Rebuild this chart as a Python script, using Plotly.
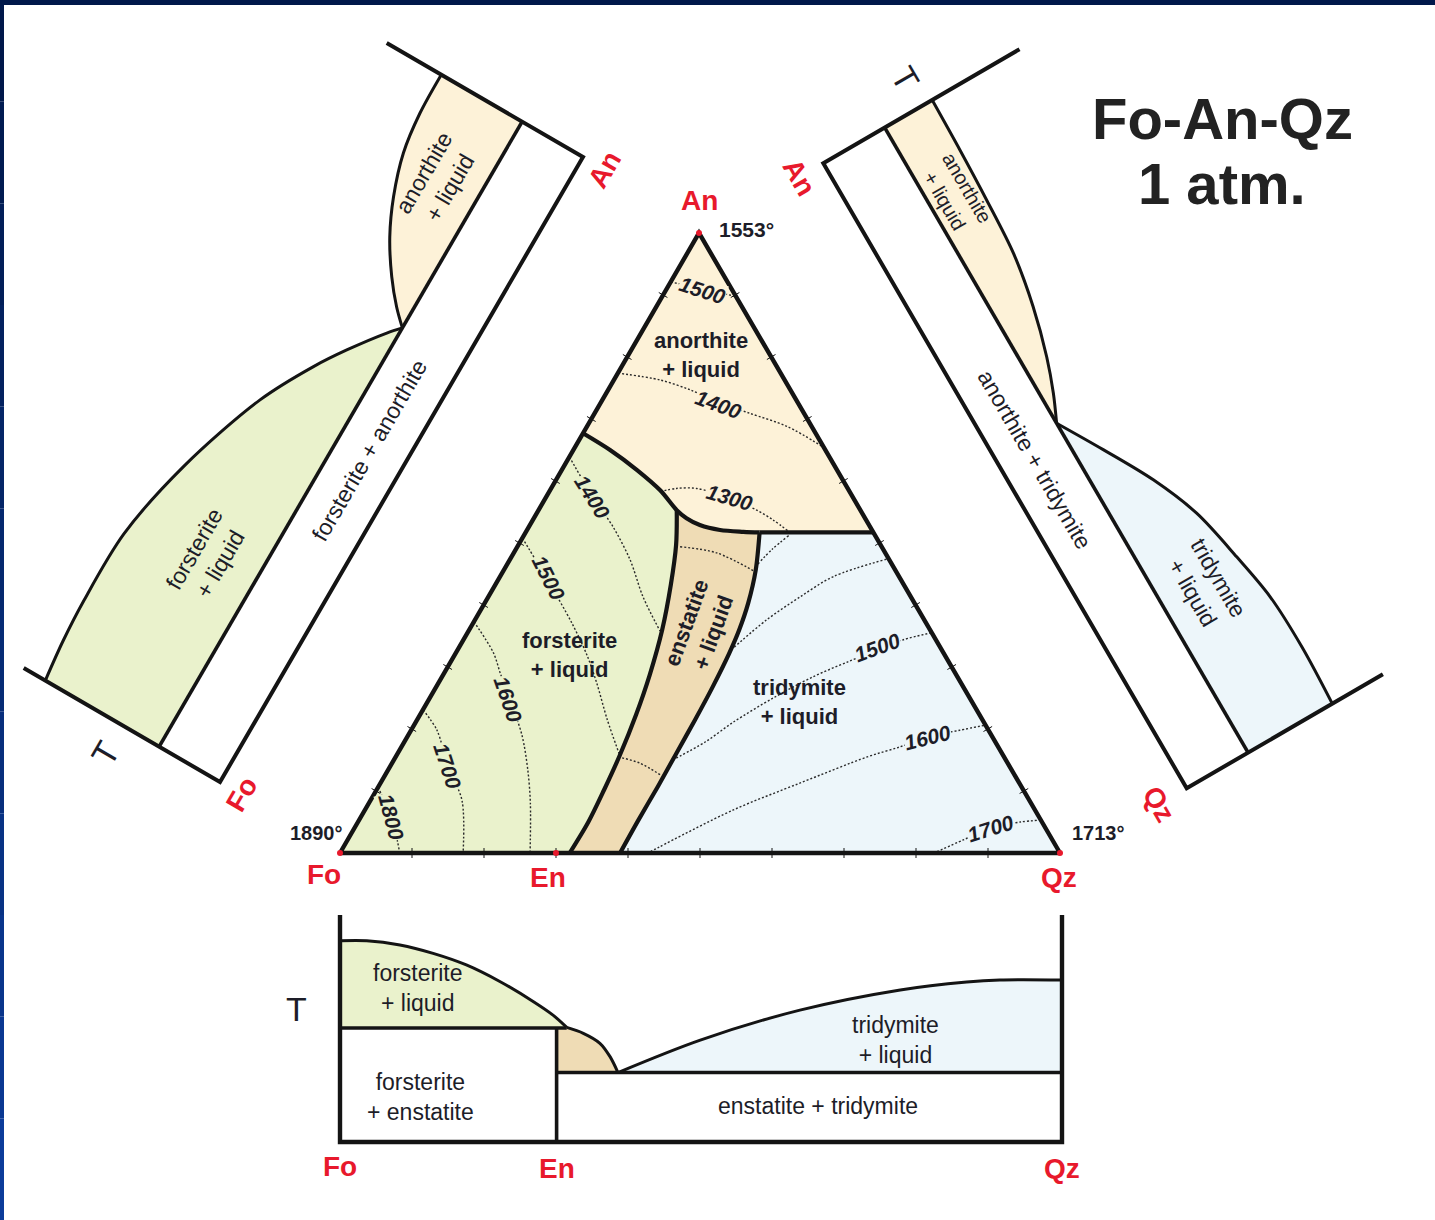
import math
import plotly.graph_objects as go

FONT = "Liberation Sans, Arial, Helvetica, sans-serif"
INK = "#1d1d28"
LINE = "#141414"
DOTS = "#2a2a2a"
RED = "#e8192c"
C_FO = "#eaf2cc"   # forsterite + liquid
C_EN = "#efdcb5"   # enstatite + liquid
C_AN = "#fdf2d8"   # anorthite + liquid
C_TR = "#edf6fa"   # tridymite + liquid

# ---------------- ternary Fo-An-Qz, points given as (An, Qz) fractions ----------------
FO_PT, AN_PT, QZ_PT = (340, 853), (699, 233), (1060, 853)
APEX_TEMPS = {"Fo": "1890°", "An": "1553°", "Qz": "1713°"}
EN_QZ = 0.30  # MgSiO3 on the Fo-Qz join

FO_AN_COTECTIC = [(0.677, 0.0), (0.650, 0.051), (0.618, 0.104), (0.585, 0.153), (0.553, 0.192)]
EN_AN_COTECTIC = [(0.553, 0.192), (0.540, 0.212), (0.529, 0.236), (0.521, 0.268), (0.518, 0.302), (0.517, 0.325)]
AN_TR_COTECTIC = [(0.517, 0.325), (0.517, 0.483)]
FO_EN_REACTION = [(0.553, 0.192), (0.497, 0.219), (0.432, 0.244), (0.360, 0.268), (0.287, 0.287),
                  (0.223, 0.300), (0.158, 0.310), (0.102, 0.316), (0.050, 0.320), (0.0, 0.319)]
EN_TR_COTECTIC = [(0.517, 0.325), (0.456, 0.350), (0.403, 0.366), (0.360, 0.375), (0.322, 0.380),
                  (0.268, 0.384), (0.215, 0.386), (0.161, 0.387), (0.107, 0.388), (0.053, 0.388), (0.0, 0.389)]

# liquidus isotherms (dotted)
ISO_AN_1500 = [(0.921, 0.0), (0.910, 0.050), (0.898, 0.101)]
ISO_AN_1400 = [(0.774, 0.0), (0.763, 0.064), (0.747, 0.114), (0.726, 0.166), (0.709, 0.216), (0.688, 0.278), (0.655, 0.344)]
ISO_AN_1300 = [(0.583, 0.154), (0.588, 0.174), (0.588, 0.202), (0.573, 0.253), (0.553, 0.303), (0.537, 0.334), (0.519, 0.364)]
ISO_FO_1400 = [(0.639, 0.0), (0.574, 0.065), (0.526, 0.117), (0.473, 0.167), (0.413, 0.215), (0.358, 0.266)]
ISO_FO_1500 = [(0.508, 0.0), (0.440, 0.069), (0.371, 0.137), (0.319, 0.184), (0.274, 0.220), (0.215, 0.264), (0.160, 0.308)]
ISO_FO_1600 = [(0.373, 0.0), (0.323, 0.052), (0.290, 0.078), (0.247, 0.113), (0.190, 0.158), (0.134, 0.194), (0.081, 0.224), (0.0, 0.264)]
ISO_FO_1700 = [(0.231, 0.0), (0.198, 0.036), (0.140, 0.080), (0.085, 0.127), (0.0, 0.171)]
ISO_FO_1800 = [(0.106, 0.0), (0.056, 0.044), (0.0, 0.083)]
ISO_EN_1400 = [(0.494, 0.226), (0.484, 0.282), (0.452, 0.354)]
ISO_EN_1500 = [(0.155, 0.309), (0.145, 0.344), (0.125, 0.384)]
ISO_TR_1300 = [(0.466, 0.348), (0.490, 0.356), (0.512, 0.368)]
ISO_TR_1400 = [(0.332, 0.382), (0.376, 0.405), (0.413, 0.433), (0.446, 0.463), (0.474, 0.523)]
ISO_TR_1500 = [(0.150, 0.387), (0.179, 0.418), (0.211, 0.441), (0.250, 0.477), (0.284, 0.515),
               (0.308, 0.551), (0.327, 0.583), (0.344, 0.611), (0.355, 0.644)]
ISO_TR_1600 = [(0.002, 0.430), (0.010, 0.439), (0.069, 0.511), (0.113, 0.583), (0.155, 0.655),
               (0.171, 0.692), (0.187, 0.723), (0.198, 0.762), (0.206, 0.793)]
ISO_TR_1700 = [(0.002, 0.828), (0.021, 0.855), (0.040, 0.883), (0.050, 0.920), (0.053, 0.946)]

# isotherm labels: text, An, Qz, angle, field colour
ISO_LABELS = [
    ("1500", 0.908, 0.051, 18, C_AN), ("1400", 0.724, 0.165, 20, C_AN), ("1300", 0.573, 0.255, 16, C_AN),
    ("1400", 0.574, 0.065, 58, C_FO), ("1500", 0.444, 0.068, 63, C_FO), ("1600", 0.247, 0.110, 71, C_FO),
    ("1700", 0.140, 0.080, 72, C_FO), ("1800", 0.058, 0.043, 75, C_FO),
    ("1500", 0.331, 0.581, -20, C_TR), ("1600", 0.187, 0.723, -14, C_TR), ("1700", 0.040, 0.883, -17, C_TR),
]
FIELD_LABELS = [
    ("anorthite<br>+ liquid", 0.803, 0.101, 0),
    ("forsterite<br>+ liquid", 0.319, 0.160, 0),
    ("enstatite<br>+ liquid", 0.363, 0.319, -70),
    ("tridymite<br>+ liquid", 0.244, 0.517, 0),
]
TICK_FRACTIONS = [0.1, 0.2, 0.3, 0.4, 0.5, 0.6, 0.7, 0.8, 0.9]

# ---------------- binary joins: (s = fraction of right-hand end member, t = relative T) ----------------
# Fo-Qz (below the triangle)
FQ_FO_LIQUIDUS = [(0.0, 0.887), (0.037, 0.887), (0.083, 0.868), (0.129, 0.831), (0.175, 0.780),
                  (0.222, 0.706), (0.268, 0.618), (0.295, 0.559), (0.314, 0.505)]
FQ_EN_LIQUIDUS = [(0.314, 0.505), (0.337, 0.479), (0.360, 0.435), (0.374, 0.376), (0.385, 0.306)]
FQ_TR_LIQUIDUS = [(0.385, 0.306), (0.499, 0.449), (0.637, 0.581), (0.776, 0.670), (0.868, 0.705),
                  (0.914, 0.714), (1.0, 0.714)]
FQ_PERITECTIC_T = 0.502
FQ_EUTECTIC_T = 0.306

# Fo-An (left of the triangle)
FA_FO_LIQUIDUS = [(0.0, 0.89), (0.06, 0.91), (0.123, 0.92), (0.23, 0.915), (0.352, 0.837),
                  (0.485, 0.693), (0.562, 0.563), (0.605, 0.473), (0.653, 0.358), (0.67, 0.31)]
FA_AN_LIQUIDUS = [(0.67, 0.31), (0.691, 0.378), (0.724, 0.464), (0.770, 0.559), (0.821, 0.634),
                  (0.880, 0.693), (0.939, 0.718), (1.0, 0.722)]
FA_EUTECTIC_T = 0.31

# An-Qz (right of the triangle)
AQ_AN_LIQUIDUS = [(0.0, 0.555), (0.079, 0.550), (0.157, 0.541), (0.240, 0.525), (0.317, 0.482),
                  (0.387, 0.422), (0.435, 0.367), (0.473, 0.313)]
AQ_TR_LIQUIDUS = [(0.473, 0.313), (0.537, 0.432), (0.608, 0.556), (0.678, 0.647), (0.758, 0.703),
                  (0.829, 0.742), (0.912, 0.752), (1.0, 0.742)]
AQ_EUTECTIC_T = 0.313

# placement of each binary panel: origin = (s=0, t=0), u = composition axis, v = temperature axis
FRAME_FQ = dict(origin=(340, 1142), u=(722, 0), v=(0, -227))
FRAME_FA = dict(origin=(220, 782), u=(363, -625), v=(-196.3, -114.0))
FRAME_AQ = dict(origin=(823.3, 163.3), u=(363.4, 625), v=(196.2, -114.1))

fig = go.Figure()


def tern_xy(pts):
    xs, ys = [], []
    for an, qz in pts:
        fo = 1 - an - qz
        xs.append(fo * FO_PT[0] + an * AN_PT[0] + qz * QZ_PT[0])
        ys.append(fo * FO_PT[1] + an * AN_PT[1] + qz * QZ_PT[1])
    return xs, ys


def frame_xy(fr, pts):
    (ox, oy), (ux, uy), (vx, vy) = fr["origin"], fr["u"], fr["v"]
    return [ox + s * ux + t * vx for s, t in pts], [oy + s * uy + t * vy for s, t in pts]


def frame_angle(fr):
    return math.degrees(math.atan2(fr["u"][1], fr["u"][0]))


def add_fill(xy, color):
    xs, ys = xy
    fig.add_trace(go.Scatter(x=xs + [xs[0]], y=ys + [ys[0]], mode="lines", fill="toself",
                             fillcolor=color, line=dict(width=0, color=color), hoverinfo="skip"))


def add_line(xy, width, smooth=False, dash="solid", color=LINE):
    xs, ys = xy
    fig.add_trace(go.Scatter(x=xs, y=ys, mode="lines", hoverinfo="skip",
                             line=dict(width=width, color=color, dash=dash,
                                       shape="spline" if smooth else "linear", smoothing=0.9)))


def add_text(x, y, text, size, color=INK, angle=0, bold=False, italic=False, bg=None,
             xshift=0, yshift=0):
    if bold:
        text = f"<b>{text}</b>"
    if italic:
        text = f"<i>{text}</i>"
    fig.add_annotation(x=x, y=y, xref="x", yref="y", text=text, showarrow=False, textangle=angle,
                       font=dict(family=FONT, size=size, color=color), bgcolor=bg, borderpad=0,
                       xshift=xshift, yshift=yshift, align="center")


# ---------------- ternary fields ----------------
add_fill(tern_xy([(1.0, 0.0)] + FO_AN_COTECTIC + EN_AN_COTECTIC[1:] + AN_TR_COTECTIC[1:]), C_AN)
add_fill(tern_xy([(0.0, 0.0)] + FO_AN_COTECTIC + FO_EN_REACTION[1:]), C_FO)
add_fill(tern_xy(EN_AN_COTECTIC + EN_TR_COTECTIC[1:] + FO_EN_REACTION[::-1]), C_EN)
add_fill(tern_xy(AN_TR_COTECTIC + [(0.0, 1.0)] + EN_TR_COTECTIC[::-1]), C_TR)

for iso in [ISO_AN_1500, ISO_AN_1400, ISO_AN_1300, ISO_FO_1400, ISO_FO_1500, ISO_FO_1600,
            ISO_FO_1700, ISO_FO_1800, ISO_EN_1400, ISO_EN_1500, ISO_TR_1300, ISO_TR_1400,
            ISO_TR_1500, ISO_TR_1600, ISO_TR_1700]:
    add_line(tern_xy(iso), 1.4, smooth=True, dash="2px,2px", color=DOTS)

add_line(tern_xy(FO_AN_COTECTIC + EN_AN_COTECTIC[1:]), 4.2, smooth=True)
add_line(tern_xy(AN_TR_COTECTIC), 4.2)
add_line(tern_xy(FO_EN_REACTION), 4.2, smooth=True)
add_line(tern_xy(EN_TR_COTECTIC), 4.2, smooth=True)

# edge ticks every 10 %
apices = [(0.0, 0.0), (1.0, 0.0), (0.0, 1.0)]
tx, ty = [], []
for a, b in [(0, 1), (1, 2), (0, 2)]:
    (x0, y0), (x1, y1) = [tuple(c[0] for c in tern_xy([apices[i]])) for i in (a, b)]
    L = math.hypot(x1 - x0, y1 - y0)
    nx, ny = -(y1 - y0) / L, (x1 - x0) / L
    for f in TICK_FRACTIONS:
        px, py = x0 + f * (x1 - x0), y0 + f * (y1 - y0)
        tx += [px - 5 * nx, px + 5 * nx, None]
        ty += [py - 5 * ny, py + 5 * ny, None]
fig.add_trace(go.Scatter(x=tx, y=ty, mode="lines", line=dict(width=1, color=LINE), hoverinfo="skip"))

add_line(tern_xy(apices + [apices[0]]), 4.4)

vx_, vy_ = tern_xy(apices + [(0.0, EN_QZ)])
fig.add_trace(go.Scatter(x=vx_, y=vy_, mode="markers", marker=dict(size=6, color=RED), hoverinfo="skip"))

for text, an, qz, ang, bg in ISO_LABELS:
    (x,), (y,) = tern_xy([(an, qz)])
    add_text(x, y, text, 21, angle=ang, bold=True, italic=True, bg=bg)
for text, an, qz, ang in FIELD_LABELS:
    (x,), (y,) = tern_xy([(an, qz)])
    add_text(x, y, text, 22, angle=ang, bold=True)

# apex names and melting points
(fx, ax, qx, ex), (fy, ay, qy, ey) = vx_, vy_
add_text(ax, ay, "An", 28, color=RED, bold=True, yshift=33)
add_text(ax, ay, APEX_TEMPS["An"], 21, bold=True, xshift=47, yshift=4)
add_text(fx, fy, "Fo", 28, color=RED, bold=True, xshift=-16, yshift=-21)
add_text(fx, fy, APEX_TEMPS["Fo"], 20, bold=True, xshift=-24, yshift=20)
add_text(ex, ey, "En", 28, color=RED, bold=True, xshift=-8, yshift=-24)
add_text(qx, qy, "Qz", 28, color=RED, bold=True, xshift=-1, yshift=-24)
add_text(qx, qy, APEX_TEMPS["Qz"], 20, bold=True, xshift=38, yshift=20)


# ---------------- binary panels ----------------
def draw_binary(fr, fills, solidus, liquidus, labels, ends, t_pos, lw_axis=4.0):
    ang = frame_angle(fr)
    for pts, col in fills:
        add_fill(frame_xy(fr, pts), col)
    for pts in liquidus:
        add_line(frame_xy(fr, pts), 3.0, smooth=True)
    for pts in solidus:
        add_line(frame_xy(fr, pts), 3.6)
    add_line(frame_xy(fr, [(0, 1), (0, 0), (1, 0), (1, 1)]), lw_axis)
    for text, s, t, size in labels:
        (x,), (y,) = frame_xy(fr, [(s, t)])
        add_text(x, y, text, size, angle=ang)
    (x,), (y,) = frame_xy(fr, [t_pos])
    add_text(x, y, "T", 34, angle=ang)
    for text, s, t in ends:
        (x,), (y,) = frame_xy(fr, [(s, t)])
        add_text(x, y, text, 28, color=RED, bold=True, angle=ang)


draw_binary(
    FRAME_FQ,
    fills=[(FQ_FO_LIQUIDUS + [(0.0, FQ_PERITECTIC_T)], C_FO),
           ([(EN_QZ, FQ_PERITECTIC_T)] + FQ_EN_LIQUIDUS + [(EN_QZ, FQ_EUTECTIC_T)], C_EN),
           (FQ_TR_LIQUIDUS + [(1.0, FQ_EUTECTIC_T)], C_TR)],
    solidus=[[(0.0, FQ_PERITECTIC_T), (FQ_FO_LIQUIDUS[-1][0], FQ_PERITECTIC_T)],
             [(EN_QZ, 0.0), (EN_QZ, FQ_PERITECTIC_T)],
             [(EN_QZ, FQ_EUTECTIC_T), (1.0, FQ_EUTECTIC_T)]],
    liquidus=[FQ_FO_LIQUIDUS, FQ_EN_LIQUIDUS, FQ_TR_LIQUIDUS],
    labels=[("forsterite<br>+ liquid", 0.108, 0.678, 23), ("forsterite<br>+ enstatite", 0.111, 0.198, 23),
            ("tridymite<br>+ liquid", 0.769, 0.449, 23), ("enstatite + tridymite", 0.662, 0.159, 23)],
    ends=[("Fo", 0.0, -0.106), ("En", EN_QZ, -0.115), ("Qz", 1.0, -0.115)],
    t_pos=(-0.06, 0.585),
    lw_axis=4.4,
)

draw_binary(
    FRAME_FA,
    fills=[(FA_FO_LIQUIDUS + [(0.0, FA_EUTECTIC_T)], C_FO),
           (FA_AN_LIQUIDUS + [(1.0, FA_EUTECTIC_T)], C_AN)],
    solidus=[[(0.0, FA_EUTECTIC_T), (1.0, FA_EUTECTIC_T)]],
    liquidus=[FA_FO_LIQUIDUS, FA_AN_LIQUIDUS],
    labels=[("anorthite<br>+ liquid", 0.871, 0.505, 23), ("forsterite<br>+ liquid", 0.26, 0.547, 23),
            ("forsterite + anorthite", 0.501, 0.163, 23)],
    ends=[("Fo", 0.0, -0.11), ("An", 1.0, -0.11)],
    t_pos=(-0.045, 0.5),
)

draw_binary(
    FRAME_AQ,
    fills=[(AQ_AN_LIQUIDUS + [(0.0, AQ_EUTECTIC_T)], C_AN),
           (AQ_TR_LIQUIDUS + [(1.0, AQ_EUTECTIC_T)], C_TR)],
    solidus=[[(0.0, AQ_EUTECTIC_T), (1.0, AQ_EUTECTIC_T)]],
    liquidus=[AQ_AN_LIQUIDUS, AQ_TR_LIQUIDUS],
    labels=[("anorthite<br>+ liquid", 0.13, 0.438, 20), ("anorthite + tridymite", 0.502, 0.149, 23),
            ("tridymite<br>+ liquid", 0.770, 0.52, 23)],
    ends=[("An", 0.0, -0.121), ("Qz", 1.0, -0.14)],
    t_pos=(-0.045, 0.5),
)

# title
fig.add_annotation(x=1222, y=118, xref="x", yref="y", text="<b>Fo-An-Qz</b>", showarrow=False,
                   font=dict(family=FONT, size=58, color="#222222"))
fig.add_annotation(x=1222, y=183, xref="x", yref="y", text="<b>1 atm.</b>", showarrow=False,
                   font=dict(family=FONT, size=58, color="#222222"))

# navy page border (top and left)
shapes = [dict(type="rect", xref="x", yref="y", x0=0, x1=1435, y0=0, y1=5, line=dict(width=0),
               fillcolor="#00184a", layer="above")]
n_seg = 12
for i in range(n_seg):
    f = i / (n_seg - 1)
    r, g, b = int(0 + 12 * f), int(24 + 36 * f), int(74 + 80 * f)
    shapes.append(dict(type="rect", xref="x", yref="y", x0=0, x1=4, y0=i * 1220 / n_seg,
                       y1=(i + 1) * 1220 / n_seg, line=dict(width=0),
                       fillcolor=f"rgb({r},{g},{b})", layer="above"))

fig.update_layout(
    width=1435, height=1220, margin=dict(l=0, r=0, t=0, b=0),
    paper_bgcolor="white", plot_bgcolor="white", showlegend=False,
    xaxis=dict(range=[0, 1435], visible=False, fixedrange=True),
    yaxis=dict(range=[1220, 0], visible=False, fixedrange=True),
    shapes=shapes,
)

fig.write_html("out.html")
